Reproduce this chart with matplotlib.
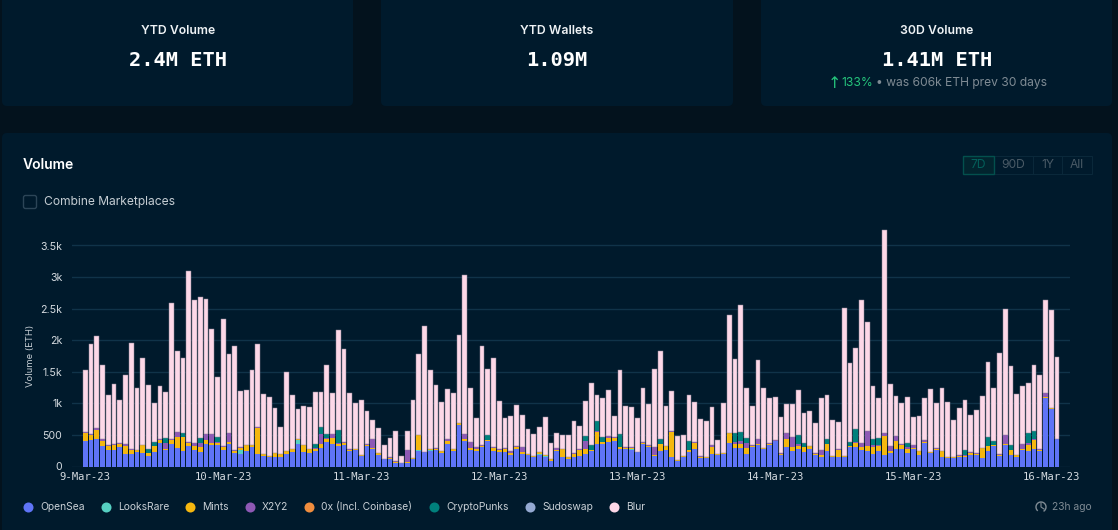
import matplotlib
matplotlib.use('Agg')
import matplotlib.pyplot as plt
import numpy as np
from matplotlib.patches import FancyBboxPatch, Rectangle, Arc

# tops of the stacks, hourly
totals = [1521, 1943, 2070, 1600, 1140, 1304, 1056, 1452, 1954, 1236,
          1716, 1294, 1008, 1278, 1172, 2582, 1837, 1711, 3094, 2635,
          2682, 2656, 2170, 1415, 2334, 1774, 1901, 1188, 1214, 1526,
          1938, 1146, 1098, 924, 628, 1500, 1130, 903, 956, 950,
          1177, 1177, 1600, 1167, 2160, 1859, 1162, 998, 1051, 876,
          744, 607, 338, 459, 570, 169, 560,
          1056, 1785, 2223, 1521, 1288, 1014, 1225, 1167, 2080, 3025,
          1246, 776, 1906, 1542, 1716, 1030, 771, 803, 972, 818,
          597, 512, 623, 781, 370, 523, 502, 491, 718, 639,
          1035, 1315, 1140, 1077, 1209, 803, 1531, 956, 935, 766,
          1241, 993, 1547, 1837, 956, 1193, 480, 496, 1130, 1014,
          750, 713, 940, 417, 1003, 2397, 1700, 2556,
          1241, 966, 1679, 1236, 1077, 1104, 787, 987, 982, 1204,
          845, 876, 692, 1082, 1130, 744, 708, 2513, 1647, 1874,
          2635, 2281, 1267, 1082, 3749, 1299, 1109, 998, 1093, 781,
          797, 1082, 1220, 998, 1241, 1019, 734, 924, 1061, 808,
          892, 1109, 1658, 1236, 1795, 2492, 1589, 1151, 1267, 1320,
          1605, 1452, 2629, 2482, 1737]
opensea = [396, 422, 433, 327, 264, 264, 306, 200, 200, 232,
           211, 169, 227, 380, 264, 354, 290, 253, 317, 264,
           232, 359, 333, 343, 264, 359, 211, 195, 248, 301,
           195, 174, 153, 143, 153, 200, 222, 359, 232, 211,
           238, 290, 391, 364, 327, 343, 238, 264, 169, 327,
           285, 185, 116, 116, 58, 53, 63,
           116, 238, 222, 253, 264, 206, 359, 253, 655, 407,
           264, 243, 306, 396, 238, 222, 232, 185, 275, 200,
           185, 153, 185, 153, 90, 243, 148, 116, 153, 169,
           200, 248, 359, 359, 391, 396, 275, 280, 269, 222,
           359, 306, 169, 253, 264, 148, 90, 148, 227, 275,
           137, 137, 200, 185, 200, 380, 290, 290,
           200, 301, 333, 280, 333, 396, 185, 306, 238, 275,
           222, 280, 180, 143, 248, 153, 153, 148, 306, 301,
           259, 243, 200, 248, 185, 216, 275, 280, 211, 280,
           185, 370, 211, 269, 153, 137, 127, 153, 158, 185,
           185, 137, 238, 317, 174, 343, 185, 153, 264, 248,
           275, 243, 1082, 908, 433]
looksrare = [0, 0, 0, 0, 0, 0, 0, 0, 0, 0,
             0, 0, 0, 0, 0, 0, 0, 0, 0, 0,
             0, 0, 0, 0, 0, 0, 0, 69, 0, 0,
             0, 0, 0, 0, 0, 0, 0, 63, 0, 0,
             0, 0, 0, 0, 0, 0, 0, 0, 0, 0,
             0, 0, 0, 0, 0, 0, 0,
             0, 26, 0, 11, 0, 0, 0, 0, 0, 0,
             0, 0, 0, 0, 0, 0, 0, 0, 0, 0,
             0, 0, 16, 16, 0, 0, 0, 0, 0, 0,
             0, 0, 0, 0, 0, 0, 0, 0, 16, 0,
             0, 0, 0, 0, 0, 0, 0, 0, 0, 0,
             0, 0, 0, 0, 0, 0, 0, 0,
             0, 0, 0, 0, 0, 0, 0, 0, 0, 0,
             0, 0, 0, 0, 0, 0, 0, 0, 0, 0,
             0, 0, 0, 0, 0, 0, 0, 0, 0, 0,
             0, 0, 0, 0, 0, 0, 0, 0, 0, 0,
             0, 0, 0, 0, 0, 0, 0, 0, 0, 0,
             0, 0, 0, 0, 0]
mints = [132, 74, 148, 79, 63, 79, 53, 132, 63, 32,
         127, 48, 95, 42, 21, 63, 174, 222, 58, 58,
         74, 53, 42, 26, 42, 32, 42, 26, 95, 42,
         422, 26, 11, 69, 48, 42, 63, 21, 116, 63,
         42, 74, 37, 84, 26, 32, 21, 21, 16, 11,
         11, 21, 5, 16, 16, 0, 16,
         21, 238, 11, 11, 16, 37, 48, 21, 32, 26,
         32, 32, 21, 26, 53, 42, 48, 26, 26, 32,
         11, 11, 21, 16, 32, 16, 127, 37, 42, 95,
         79, 16, 195, 32, 63, 63, 32, 11, 11, 11,
         11, 16, 16, 106, 63, 396, 16, 26, 42, 95,
         16, 11, 116, 16, 16, 148, 63, 63,
         95, 21, 21, 16, 21, 11, 16, 127, 69, 53,
         84, 42, 16, 42, 116, 11, 106, 16, 11, 79,
         48, 79, 106, 74, 301, 32, 132, 53, 74, 16,
         53, 16, 16, 11, 95, 11, 26, 16, 16, 26,
         16, 158, 90, 16, 16, 21, 74, 26, 11, 95,
         137, 16, 16, 21, 0]
x2y2 = [16, 11, 21, 26, 11, 11, 11, 26, 21, 0,
        0, 0, 0, 11, 95, 16, 79, 0, 16, 53,
        74, 95, 143, 26, 16, 137, 11, 11, 0, 0,
        16, 0, 0, 0, 0, 0, 0, 0, 0, 11,
        11, 148, 16, 63, 26, 16, 11, 0, 0, 21,
        132, 11, 0, 16, 11, 0, 185,
        0, 0, 0, 0, 11, 0, 32, 0, 5, 79,
        95, 26, 11, 0, 11, 16, 16, 32, 16, 74,
        0, 0, 0, 0, 0, 32, 0, 0, 11, 11,
        132, 0, 11, 0, 32, 11, 0, 11, 11, 0,
        16, 16, 116, 0, 0, 11, 0, 0, 0, 11,
        11, 0, 26, 0, 0, 0, 42, 53,
        74, 11, 84, 0, 26, 11, 16, 95, 158, 26,
        0, 0, 11, 74, 0, 0, 11, 0, 0, 11,
        63, 243, 42, 26, 42, 74, 74, 26, 26, 42,
        0, 26, 0, 16, 0, 0, 0, 11, 11, 11,
        11, 0, 0, 0, 11, 127, 0, 11, 84, 26,
        16, 16, 63, 0, 0]
cryptopunks = [0, 0, 0, 0, 0, 0, 0, 0, 0, 0,
               0, 58, 63, 0, 74, 0, 0, 63, 0, 0,
               69, 0, 0, 74, 0, 0, 0, 0, 0, 0,
               0, 0, 0, 0, 0, 0, 0, 0, 0, 0,
               63, 121, 63, 0, 201, 0, 0, 0, 0, 0,
               0, 0, 0, 0, 0, 0, 0,
               0, 0, 0, 0, 0, 0, 0, 0, 0, 0,
               0, 0, 0, 79, 0, 0, 0, 0, 0, 0,
               0, 0, 0, 0, 0, 0, 0, 0, 0, 0,
               69, 74, 148, 74, 0, 0, 201, 0, 0, 0,
               0, 0, 0, 84, 0, 0, 0, 0, 127, 0,
               0, 0, 0, 0, 0, 0, 137, 137,
               79, 0, 0, 0, 0, 0, 0, 0, 0, 143,
               69, 0, 0, 0, 74, 0, 0, 0, 74, 201,
               0, 0, 90, 106, 0, 0, 0, 0, 69, 0,
               0, 0, 0, 0, 0, 0, 0, 0, 84, 0,
               0, 0, 137, 74, 0, 0, 74, 0, 0, 169,
               127, 0, 0, 0, 0]
series_names = ['OpenSea', 'LooksRare', 'Mints', 'X2Y2', '0x (Incl. Coinbase)',
                'CryptoPunks', 'Sudoswap', 'Blur']
series_colors = ['#5f74f6', '#56d0c2', '#f5b70f', '#8e59b5', '#f08d3e',
                 '#00807c', '#94a9d2', '#fdd8e8']
legend_dots = [28, 106, 190, 250, 309, 434, 530, 614]
day_ticks = [0, 24, 48, 72, 96, 120, 144, 168]
day_labels = ['9-Mar-23', '10-Mar-23', '11-Mar-23', '12-Mar-23', '13-Mar-23',
              '14-Mar-23', '15-Mar-23', '16-Mar-23']
y_ticks = [0, 500, 1000, 1500, 2000, 2500, 3000, 3500]
y_labels = ['0', '500', '1k', '1.5k', '2k', '2.5k', '3k', '3.5k']

page_bg = '#03121d'
card_bg = '#001a2c'
W, H = 1118, 530

fig = plt.figure(figsize=(W/100, H/100), dpi=100, facecolor=page_bg)

# overlay in pixels for cards and page text
bg = fig.add_axes([0, 0, 1, 1], zorder=0)
bg.set_xlim(0, W)
bg.set_ylim(H, 0)
bg.axis('off')


def card(x0, y0, x1, y1):
    bg.add_patch(FancyBboxPatch((x0, y0), x1-x0, y1-y0, boxstyle='round,pad=0,rounding_size=5',
                                fc=card_bg, ec='none'))


card(2, -10, 353, 106)
card(381, -10, 733, 106)
card(761, -10, 1112, 106)
card(2, 133, 1112, 540)

sans = 'Inter'
mono = 'DejaVu Sans Mono'
for cx, title, val in [(178, 'YTD Volume', '2.4M ETH'), (557, 'YTD Wallets', '1.09M'),
                       (937, '30D Volume', '1.41M ETH')]:
    bg.text(cx, 31.5, title, color='#eef2f5', fontsize=8.8, family=sans, weight='semibold', ha='center', va='center')
    bg.text(cx, 61, val, color='white', fontsize=14.7, family=mono, weight='bold', ha='center', va='center')

bg.text(834, 83.5, '\u2191', color='#25c47c', fontsize=11.5, family='DejaVu Sans', ha='center', va='center')
bg.text(841, 83, '133%', color='#25c47c', fontsize=8.7, family=sans, ha='left', va='center')
bg.text(876, 83, '\u2022 was 606k ETH prev 30 days', color='#7f8b94', fontsize=8.7, family=sans, ha='left', va='center')

bg.text(23, 165, 'Volume', color='white', fontsize=10, family=sans, weight='semibold', ha='left', va='center')
bg.add_patch(FancyBboxPatch((23.5, 195.5), 13, 13, boxstyle='round,pad=0,rounding_size=2',
                            fc='none', ec='#2c4557', lw=1))
bg.text(44, 202.5, 'Combine Marketplaces', color='#c4ccd2', fontsize=8.7, family=sans, ha='left', va='center')

# range buttons
bg.add_patch(Rectangle((963, 155.5), 129, 18, fc='none', ec='#0b293b', lw=0.7))
for bx in [1033, 1062]:
    bg.plot([bx, bx], [155.5, 173.5], color='#0b293b', lw=0.7)
bg.add_patch(Rectangle((963, 155.5), 31, 18, fc='#02242e', ec='#03504d', lw=1))
for bx, lab, col in [(978.5, '7D', '#035f5a'), (1013.5, '90D', '#4a5a66'),
                     (1047.5, '1Y', '#4a5a66'), (1077, 'All', '#4a5a66')]:
    bg.text(bx, 165.5, lab, color=col, fontsize=8.7, family=sans, ha='center', va='center')

# legend row
for dx, name, col in zip(legend_dots, series_names, series_colors):
    bg.scatter([dx], [506.5], s=52, color=col, linewidths=0)
    bg.text(dx+12, 507, name, color='#c9d0d6', fontsize=7.4, family=sans, ha='left', va='center')

bg.add_patch(Arc((1041, 507), 10, 10, theta1=-230, theta2=60, color='#7f8b94', lw=1))
bg.plot([1041, 1041, 1044], [503, 507, 509], color='#7f8b94', lw=0.8)
bg.text(1092, 507, '23h ago', color='#7f8b94', fontsize=7.4, family=sans, ha='right', va='center')

# chart, mapped so that bar i sits at 85.3 + 5.75*i px and 0 at 466.5 px
ax = fig.add_axes([72/W, (H-466.5)/H, (1070-72)/W, (466.5-228)/H], zorder=1)
ax.patch.set_alpha(0)
ax.set_xlim((72-85.3)/5.75, (1070-85.3)/5.75)
ax.set_ylim(0, (466.5-228)/221*3500)

hours = np.arange(len(totals))
stack = [np.array(s, dtype=float) for s in (opensea, looksrare, mints, x2y2, cryptopunks)]
order = [0, 1, 2, 3, 5]
bottom = np.zeros(len(totals))
for s, k in zip(stack, order):
    ax.bar(hours, s, 0.82, bottom=bottom, color=series_colors[k], linewidth=0, zorder=3)
    bottom = bottom + s
blur = np.clip(np.array(totals, dtype=float) - bottom, 0, None)
ax.bar(hours, blur, 0.82, bottom=bottom, color=series_colors[7], edgecolor='#8d8295', linewidth=0.35, zorder=3)

ax.set_yticks(y_ticks)
ax.set_yticklabels(y_labels, color='#d5dbe0', fontsize=7.6, family=sans)
ax.set_xticks(day_ticks)
ax.set_xticklabels(day_labels, color='#d5dbe0', fontsize=7.6, family=mono)
ax.tick_params(length=0)
ax.tick_params(axis='y', pad=7)
ax.tick_params(axis='x', pad=4)
ax.grid(axis='y', color='#103349', lw=1, zorder=0)
ax.set_axisbelow(True)
for s in ax.spines.values():
    s.set_visible(False)
bg.text(30, 356, 'Volume (ETH)', color='#c4ccd2', fontsize=6.8, family=sans, rotation=90, ha='center', va='center')

fig.savefig('out.png', dpi=100, facecolor=fig.get_facecolor())
